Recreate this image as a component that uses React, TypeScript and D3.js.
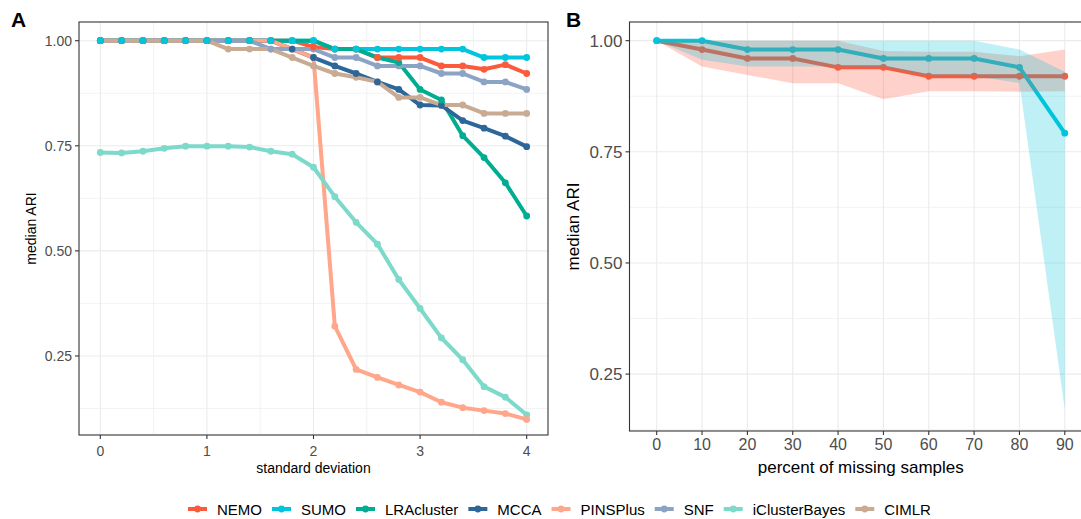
import React, { useEffect, useRef } from "react";
import * as d3 from "d3";

// ---------- data ----------
const sdValues = [0, 0.2, 0.4, 0.6, 0.8, 1.0, 1.2, 1.4, 1.6, 1.8, 2.0, 2.2, 2.4, 2.6, 2.8, 3.0, 3.2, 3.4, 3.6, 3.8, 4.0];

const methods = ["NEMO", "SUMO", "LRAcluster", "MCCA", "PINSPlus", "SNF", "iClusterBayes", "CIMLR"];
const methodColors = ["#FC5A3D", "#00C5DC", "#00AD91", "#2D6699", "#FFA68B", "#8CA4C4", "#7DD9CA", "#C8AB92"];

const nemoA = [1, 1, 1, 1, 1, 1, 1, 1, 1, 1, 0.985, 0.98, 0.98, 0.96, 0.96, 0.96, 0.94, 0.94, 0.932, 0.943, 0.922];
const sumoA = [1, 1, 1, 1, 1, 1, 1, 1, 1, 1, 1, 0.98, 0.98, 0.98, 0.98, 0.98, 0.98, 0.98, 0.96, 0.96, 0.96];
const lraA = [1, 1, 1, 1, 1, 1, 1, 1, 1, 1, 1, 0.98, 0.98, 0.96, 0.948, 0.884, 0.859, 0.774, 0.722, 0.662, 0.583];
const mccaA = [1, 1, 1, 1, 1, 1, 1, 1, 1, 0.98, 0.96, 0.94, 0.922, 0.902, 0.884, 0.847, 0.846, 0.81, 0.792, 0.773, 0.748];
const pinsA = [1, 1, 1, 1, 1, 1, 1, 1, 1, 0.98, 0.96, 0.321, 0.218, 0.199, 0.181, 0.164, 0.14, 0.127, 0.12, 0.113, 0.099];
const snfA = [1, 1, 1, 1, 1, 1, 1, 1, 0.98, 0.98, 0.98, 0.96, 0.96, 0.94, 0.94, 0.94, 0.922, 0.922, 0.902, 0.902, 0.884];
const iclusterA = [0.734, 0.733, 0.737, 0.744, 0.749, 0.749, 0.749, 0.747, 0.737, 0.73, 0.699, 0.629, 0.568, 0.516, 0.432, 0.363, 0.293, 0.241, 0.177, 0.152, 0.11];
const cimlrA = [1, 1, 1, 1, 1, 1, 0.98, 0.98, 0.98, 0.96, 0.94, 0.922, 0.913, 0.902, 0.865, 0.865, 0.847, 0.847, 0.827, 0.827, 0.827];

const seriesA = [nemoA, sumoA, lraA, mccaA, pinsA, snfA, iclusterA, cimlrA];

const missingPct = ["0", "10", "20", "30", "40", "50", "60", "70", "80", "90"];
const nemoB = [1, 0.98, 0.96, 0.96, 0.94, 0.94, 0.92, 0.92, 0.92, 0.92];
const sumoB = [1, 1, 0.98, 0.98, 0.98, 0.96, 0.96, 0.96, 0.94, 0.792];
const nemoBLow = [1, 0.942, 0.923, 0.904, 0.904, 0.868, 0.886, 0.886, 0.885, 0.886];
const nemoBHigh = [1, 1, 1, 1, 1, 0.977, 0.975, 0.975, 0.965, 0.98];
const sumoBLow = [1, 0.957, 0.942, 0.942, 0.942, 0.94, 0.92, 0.92, 0.905, 0.17];
const sumoBHigh = [1, 1, 1, 1, 1, 1, 1, 1, 0.98, 0.93];

const yTicks = [0.25, 0.5, 0.75, 1.0];
const yMinor = [0.125, 0.375, 0.625, 0.875];
const xTicksA = [0, 1, 2, 3, 4];
const xMinorA = [0.5, 1.5, 2.5, 3.5];

const FONT = "'Liberation Sans', Arial, Helvetica, sans-serif";
const GRID = "#EBEBEB";
const BORDER = "#333333";
const TICKTXT = "#4D4D4D";

export default function App() {
  const ref = useRef<SVGSVGElement>(null);

  useEffect(() => {
    const svg = d3.select(ref.current);
    svg.selectAll("*").remove();
    svg.style("font-family", FONT);

    // ---------- Panel A ----------
    const A = { l: 79, r: 548, t: 22, b: 435 };
    const xA = d3.scaleLinear().domain([-0.2, 4.2]).range([A.l, A.r]);
    const yA = d3.scaleLinear().domain([0.062, 1.0445]).range([A.b, A.t]);
    const gA = svg.append("g");
    gA.append("rect").attr("x", A.l).attr("y", A.t).attr("width", A.r - A.l).attr("height", A.b - A.t).attr("fill", "white");
    yMinor.forEach((v) => {
      gA.append("line").attr("x1", A.l).attr("x2", A.r).attr("y1", yA(v)).attr("y2", yA(v)).attr("stroke", GRID).attr("stroke-width", 0.6);
    });
    xMinorA.forEach((v) => {
      gA.append("line").attr("y1", A.t).attr("y2", A.b).attr("x1", xA(v)).attr("x2", xA(v)).attr("stroke", GRID).attr("stroke-width", 0.6);
    });
    yTicks.forEach((v) => {
      gA.append("line").attr("x1", A.l).attr("x2", A.r).attr("y1", yA(v)).attr("y2", yA(v)).attr("stroke", GRID).attr("stroke-width", 1.1);
    });
    xTicksA.forEach((v) => {
      gA.append("line").attr("y1", A.t).attr("y2", A.b).attr("x1", xA(v)).attr("x2", xA(v)).attr("stroke", GRID).attr("stroke-width", 1.1);
    });

    const lineA = d3.line<number>().x((_, i) => xA(sdValues[i])).y((d) => yA(d));
    seriesA.forEach((s, k) => {
      gA.append("path").attr("d", lineA(s) as string).attr("fill", "none").attr("stroke", methodColors[k]).attr("stroke-width", 4).attr("stroke-linejoin", "round");
    });
    const pointOrder = [7, 6, 5, 4, 3, 2, 0, 1];
    pointOrder.forEach((k) => {
      seriesA[k].forEach((v, i) => {
        gA.append("circle").attr("cx", xA(sdValues[i])).attr("cy", yA(v)).attr("r", 3.4).attr("fill", methodColors[k]);
      });
    });

    gA.append("rect").attr("x", A.l).attr("y", A.t).attr("width", A.r - A.l).attr("height", A.b - A.t).attr("fill", "none").attr("stroke", BORDER).attr("stroke-width", 1.1);

    yTicks.forEach((v) => {
      gA.append("line").attr("x1", A.l - 4).attr("x2", A.l).attr("y1", yA(v)).attr("y2", yA(v)).attr("stroke", BORDER).attr("stroke-width", 1.1);
      gA.append("text").attr("x", A.l - 7).attr("y", yA(v) + 5).attr("text-anchor", "end").attr("font-size", 14).attr("fill", TICKTXT).text(d3.format(".2f")(v));
    });
    xTicksA.forEach((v) => {
      gA.append("line").attr("x1", xA(v)).attr("x2", xA(v)).attr("y1", A.b).attr("y2", A.b + 4).attr("stroke", BORDER).attr("stroke-width", 1.1);
      gA.append("text").attr("x", xA(v)).attr("y", A.b + 21).attr("text-anchor", "middle").attr("font-size", 14).attr("fill", TICKTXT).text(String(v));
    });
    gA.append("text").attr("x", (A.l + A.r) / 2).attr("y", 473).attr("text-anchor", "middle").attr("font-size", 14).attr("fill", "black").text("standard deviation");
    gA.append("text").attr("transform", `translate(36,${(A.t + A.b) / 2}) rotate(-90)`).attr("text-anchor", "middle").attr("font-size", 14).attr("fill", "black").text("median ARI");
    svg.append("text").attr("x", 11).attr("y", 27).attr("font-size", 21).attr("font-weight", "bold").text("A");

    // ---------- Panel B ----------
    const B = { l: 629.5, r: 1092, t: 22, b: 431 };
    const xB = d3.scalePoint<string>().domain(missingPct).range([B.l, B.r]).padding(0.6);
    const yB = d3.scaleLinear().domain([0.122, 1.042]).range([B.b, B.t]);
    const gB = svg.append("g");
    gB.append("rect").attr("x", B.l).attr("y", B.t).attr("width", B.r - B.l).attr("height", B.b - B.t).attr("fill", "white");
    yMinor.forEach((v) => {
      gB.append("line").attr("x1", B.l).attr("x2", B.r).attr("y1", yB(v)).attr("y2", yB(v)).attr("stroke", GRID).attr("stroke-width", 0.6);
    });
    yTicks.forEach((v) => {
      gB.append("line").attr("x1", B.l).attr("x2", B.r).attr("y1", yB(v)).attr("y2", yB(v)).attr("stroke", GRID).attr("stroke-width", 1.1);
    });
    missingPct.forEach((c) => {
      gB.append("line").attr("y1", B.t).attr("y2", B.b).attr("x1", xB(c)!).attr("x2", xB(c)!).attr("stroke", GRID).attr("stroke-width", 1.1);
    });

    const lineB = d3.line<number>().x((_, i) => xB(missingPct[i])!).y((d) => yB(d));
    const areaB = (lo: number[], hi: number[]) =>
      d3.area<number>().x((_, i) => xB(missingPct[i])!).y0((_, i) => yB(lo[i])).y1((_, i) => yB(hi[i]))(lo) as string;

    gB.append("path").attr("d", lineB(nemoB) as string).attr("fill", "none").attr("stroke", methodColors[0]).attr("stroke-width", 4).attr("stroke-linejoin", "round");
    gB.append("path").attr("d", lineB(sumoB) as string).attr("fill", "none").attr("stroke", methodColors[1]).attr("stroke-width", 4).attr("stroke-linejoin", "round");
    nemoB.forEach((v, i) => gB.append("circle").attr("cx", xB(missingPct[i])!).attr("cy", yB(v)).attr("r", 3.4).attr("fill", methodColors[0]));
    sumoB.forEach((v, i) => gB.append("circle").attr("cx", xB(missingPct[i])!).attr("cy", yB(v)).attr("r", 3.4).attr("fill", methodColors[1]));

    gB.append("path").attr("d", areaB(nemoBLow, nemoBHigh)).attr("fill", methodColors[0]).attr("fill-opacity", 0.27);
    gB.append("path").attr("d", areaB(sumoBLow, sumoBHigh)).attr("fill", methodColors[1]).attr("fill-opacity", 0.25);

    gB.append("rect").attr("x", B.l).attr("y", B.t).attr("width", B.r - B.l).attr("height", B.b - B.t).attr("fill", "none").attr("stroke", BORDER).attr("stroke-width", 1.1);

    yTicks.forEach((v) => {
      gB.append("line").attr("x1", B.l - 4).attr("x2", B.l).attr("y1", yB(v)).attr("y2", yB(v)).attr("stroke", BORDER).attr("stroke-width", 1.1);
      gB.append("text").attr("x", B.l - 7).attr("y", yB(v) + 6).attr("text-anchor", "end").attr("font-size", 17).attr("fill", TICKTXT).text(d3.format(".2f")(v));
    });
    missingPct.forEach((c) => {
      gB.append("line").attr("x1", xB(c)!).attr("x2", xB(c)!).attr("y1", B.b).attr("y2", B.b + 4).attr("stroke", BORDER).attr("stroke-width", 1.1);
      gB.append("text").attr("x", xB(c)!).attr("y", B.b + 19).attr("text-anchor", "middle").attr("font-size", 16).attr("fill", TICKTXT).text(c);
    });
    gB.append("text").attr("x", (B.l + B.r) / 2).attr("y", 473).attr("text-anchor", "middle").attr("font-size", 17).attr("fill", "black").text("percent of missing samples");
    gB.append("text").attr("transform", `translate(579,${(B.t + B.b) / 2}) rotate(-90)`).attr("text-anchor", "middle").attr("font-size", 17).attr("fill", "black").text("median ARI");
    svg.append("text").attr("x", 566).attr("y", 27).attr("font-size", 21).attr("font-weight", "bold").text("B");

    // ---------- Legend ----------
    const gL = svg.append("g");
    let lx = 188;
    const ly = 509;
    methods.forEach((m, k) => {
      gL.append("line").attr("x1", lx).attr("x2", lx + 19).attr("y1", ly).attr("y2", ly).attr("stroke", methodColors[k]).attr("stroke-width", 4);
      gL.append("circle").attr("cx", lx + 9.5).attr("cy", ly).attr("r", 3.4).attr("fill", methodColors[k]);
      const t = gL.append("text").attr("x", lx + 29).attr("y", ly + 5.5).attr("font-size", 15).attr("fill", "black").text(m);
      const w = (t.node() as SVGTextElement).getComputedTextLength();
      lx += 29 + w + 10;
    });
  }, []);

  return (
    <svg ref={ref} width={1081} height={519} style={{ position: "absolute", left: 0, top: 0, background: "white" }} />
  );
}
